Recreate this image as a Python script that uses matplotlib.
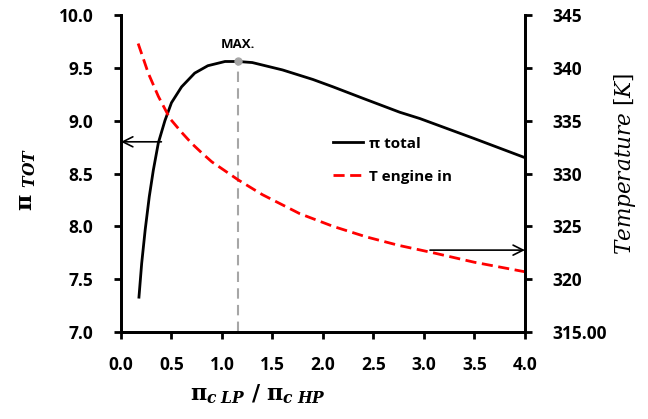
import matplotlib.pyplot as plt
from matplotlib.ticker import FixedLocator, FixedFormatter

plt.rcParams['mathtext.fontset'] = 'dejavuserif'

# pi total curve (left axis)
x_pi = [0.178, 0.205, 0.24, 0.28, 0.32, 0.37, 0.435, 0.50, 0.60, 0.73, 0.86, 1.03,
        1.16, 1.30, 1.60, 1.90, 2.10, 2.40, 2.76, 2.96, 3.50, 4.00]
pi_tot = [7.33, 7.65, 7.97, 8.28, 8.53, 8.79, 9.00, 9.17, 9.32, 9.45, 9.52, 9.56,
          9.56, 9.55, 9.48, 9.39, 9.32, 9.21, 9.08, 9.02, 8.83, 8.65]

# engine inlet temperature (right axis)
x_T = [0.17, 0.27, 0.37, 0.485, 0.60, 0.70, 0.80, 0.90, 1.00, 1.16, 1.40, 1.77,
       2.10, 2.43, 2.75, 3.09, 3.50, 4.00]
T_in = [342.3, 339.5, 337.3, 335.2, 333.9, 332.85, 331.95, 331.1, 330.45, 329.4,
        328.0, 326.2, 325.0, 324.0, 323.2, 322.5, 321.6, 320.7]

x_max, pi_max = 1.16, 9.56

x_ticks = [0.0, 0.5, 1.0, 1.5, 2.0, 2.5, 3.0, 3.5, 4.0]
y_ticks = [7.0, 7.5, 8.0, 8.5, 9.0, 9.5, 10.0]
t_ticks = [315, 320, 325, 330, 335, 340, 345]
t_labels = ['315.00', '320', '325', '330', '335', '340', '345']

tick_font = dict(family='Open Sans', weight='bold', size=12.5)

fig = plt.figure(figsize=(6.48, 4.19), dpi=100)
ax = fig.add_axes([0.1867, 0.2076, 0.6234, 0.7566])
ax2 = ax.twinx()

l1, = ax.plot(x_pi, pi_tot, color='black', lw=2, label='π total')
l2, = ax2.plot(x_T, T_in, color='red', lw=2, ls=(0, (4, 2)), label='T engine in')

# maximum marker
ax.plot([x_max, x_max], [7.0, pi_max], color='#a6a6a6', lw=1.5, ls=(0, (5, 3)))
ax.plot(x_max, pi_max, 'o', color='#a6a6a6', ms=5)
ax.text(x_max, pi_max + 0.1, 'MAX.', ha='center', va='bottom',
        fontfamily='Open Sans', fontweight='bold', fontsize=9.5)

ax.set_xlim(0, 4)
ax.set_ylim(7, 10)
ax2.set_ylim(315, 345)

ax.set_xticks(x_ticks)
ax.set_xticklabels([f'{v:.1f}' for v in x_ticks], **tick_font)
ax.set_yticks(y_ticks)
ax.set_yticklabels([f'{v:.1f}' for v in y_ticks], **tick_font)
ax2.yaxis.set_major_locator(FixedLocator(t_ticks))
ax2.yaxis.set_major_formatter(FixedFormatter(t_labels))
for lab in ax2.get_yticklabels():
    lab.set_fontfamily('Open Sans')
    lab.set_fontweight('bold')
    lab.set_fontsize(12.5)

for a in (ax, ax2):
    a.spines['top'].set_visible(False)
    for s in ('left', 'right', 'bottom'):
        a.spines[s].set_linewidth(2)
    a.tick_params(width=2, length=5, direction='out')
ax.tick_params(axis='y', pad=15)
ax.tick_params(axis='x', pad=12)
ax2.tick_params(axis='y', pad=15)

# arrows pointing at the matching axis
ax.annotate('', xy=(0.0, 8.8), xytext=(0.40, 8.8),
            arrowprops=dict(arrowstyle='->', color='black', lw=1.2,
                            mutation_scale=18, shrinkA=0, shrinkB=0))
ax2.annotate('', xy=(4.0, 322.75), xytext=(3.06, 322.75),
             arrowprops=dict(arrowstyle='->', color='black', lw=1.2,
                             mutation_scale=18, shrinkA=0, shrinkB=0))

leg = ax.legend(handles=[l1, l2], loc='upper left', bbox_to_anchor=(0.49, 0.66),
                frameon=False, handlelength=2.0, handletextpad=0.4,
                labelspacing=1.25, prop=dict(family='Open Sans', weight='bold', size=11))

ax.set_xlabel(r'$\mathbf{\pi}_{\mathbfit{c\ LP}}\ \mathbf{/}\ \mathbf{\pi}_{\mathbfit{c\ HP}}$',
              fontsize=16)
ax.xaxis.set_label_coords(0.34, -0.16)
ax.set_ylabel(r'$\mathbf{\pi}\ _{\mathbfit{TOT}}$', fontsize=16)
ax.yaxis.set_label_coords(-0.205, 0.48)
ax2.set_ylabel(r'$Temperature\ [K]$', fontsize=15.5)
ax2.yaxis.set_label_coords(1.215, 0.53)

fig.savefig('out.png', dpi=100)
